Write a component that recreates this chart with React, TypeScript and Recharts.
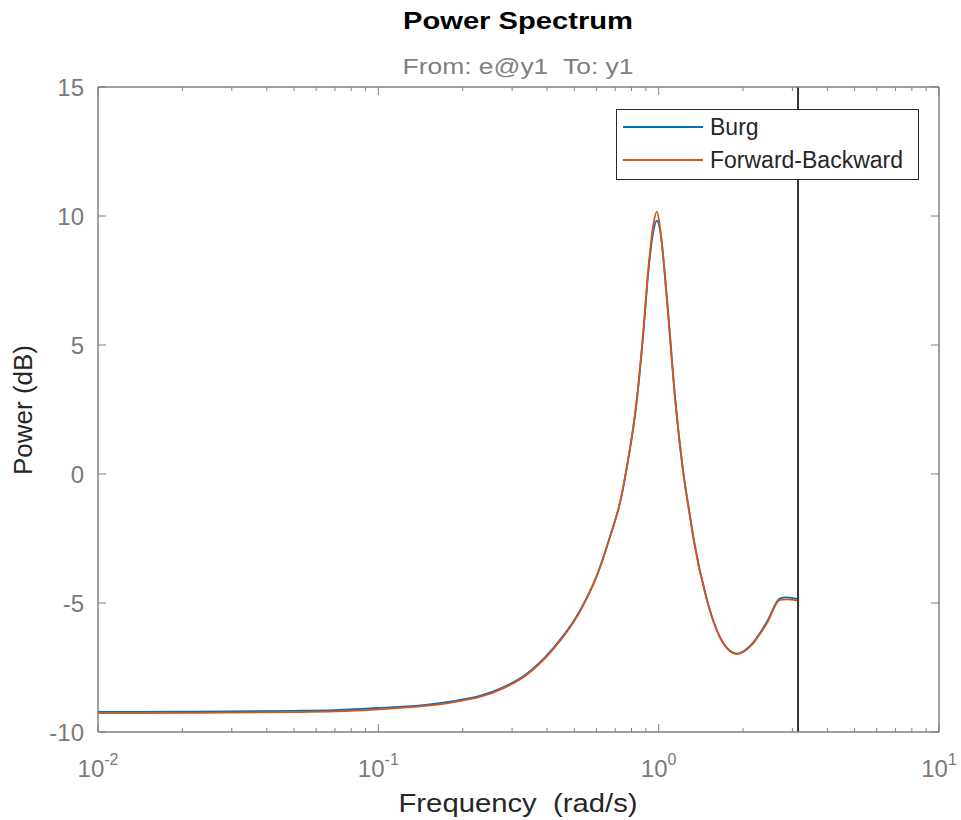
import React from 'react';
import { LineChart, Line, XAxis, YAxis, ReferenceLine, Legend } from 'recharts';

// ---- data ----
const freq = [0.01, 0.02, 0.05, 0.07, 0.1, 0.15, 0.2, 0.23, 0.28, 0.33, 0.42, 0.52, 0.6, 0.67, 0.73, 0.77, 0.835, 0.88, 0.92, 0.955, 0.985, 1.01, 1.07, 1.145, 1.225, 1.295, 1.33, 1.485, 1.7, 1.9, 2.12, 2.43, 2.71, 2.86, 3.1416];
const burg = [-9.22, -9.21, -9.18, -9.15, -9.07, -8.94, -8.74, -8.6, -8.26, -7.83, -6.76, -5.36, -3.97, -2.43, -1.05, 0.25, 2.8, 5.35, 7.9, 9.35, 9.82, 9.5, 6.85, 2.95, 0.05, -1.65, -2.45, -4.85, -6.55, -6.96, -6.66, -5.74, -4.82, -4.78, -4.85];
const fwdBwd = [-9.27, -9.26, -9.23, -9.2, -9.12, -8.98, -8.78, -8.64, -8.3, -7.87, -6.8, -5.39, -3.99, -2.45, -1.05, 0.28, 2.87, 5.45, 8.03, 9.6, 10.17, 9.6, 6.74, 2.87, 0.0, -1.7, -2.5, -4.88, -6.56, -6.98, -6.69, -5.79, -4.88, -4.86, -4.91];

const xMajorTicks = [0.01, 0.1, 1, 10];
const xTickExponents = ['-2', '-1', '0', '1'];
const xMinorMultipliers = [2, 3, 4, 5, 6, 7, 8, 9];
const yTicks = [-10, -5, 0, 5, 10, 15];
const seriesNames = ['Burg', 'Forward-Backward'];
const seriesColors = ['#0072BD', '#D95319'];
const nyquistFreq = 3.1416;

const titleText = 'Power Spectrum';
const subtitleText = 'From: e@y1\u00A0\u00A0To: y1';
const xLabelText = 'Frequency\u00A0\u00A0(rad/s)';
const yLabelText = 'Power (dB)';

// ---- derived ----
const data = freq.map((f, i) => ({ f, burg: burg[i], fb: fwdBwd[i] }));
const xAllTicks: number[] = [];
xMajorTicks.forEach((m, i) => {
  xAllTicks.push(m);
  if (i < xMajorTicks.length - 1) xMinorMultipliers.forEach((k) => xAllTicks.push(+(m * k).toPrecision(6)));
});

const FONT = '"Liberation Sans", Arial, Helvetica, sans-serif';
const AXIS = '#808080';
const TICKTXT = '#7a7a7a';

const majorIndex = (v: number) => xMajorTicks.findIndex((m) => Math.abs(m - v) / m < 1e-6);

const BottomTick = (props: any) => {
  const { x, y, payload } = props;
  const idx = majorIndex(payload.value);
  const major = idx >= 0;
  return (
    <g>
      <line x1={x} y1={y} x2={x} y2={y - (major ? 8 : 4)} stroke={AXIS} strokeWidth={1} />
      {major && (
        <text x={x} y={y + 45} textAnchor="middle" fill={TICKTXT} fontSize={24} fontFamily={FONT}>
          10
          <tspan dy={-12} fontSize={16}>{xTickExponents[idx]}</tspan>
        </text>
      )}
    </g>
  );
};

const TopTick = (props: any) => {
  const { x, y, payload } = props;
  const major = majorIndex(payload.value) >= 0;
  return <line x1={x} y1={y} x2={x} y2={y + (major ? 8 : 4)} stroke={AXIS} strokeWidth={1} />;
};

const LeftTick = (props: any) => {
  const { x, y, payload } = props;
  return (
    <g>
      <line x1={x} y1={y} x2={x + 8} y2={y} stroke={AXIS} strokeWidth={1} />
      <text x={x - 14} y={y + 9} textAnchor="end" fill={TICKTXT} fontSize={24} fontFamily={FONT}>
        {payload.value}
      </text>
    </g>
  );
};

const RightTick = (props: any) => {
  const { x, y } = props;
  return <line x1={x} y1={y} x2={x - 8} y2={y} stroke={AXIS} strokeWidth={1} />;
};

const LegendBox = () => (
  <svg width={303} height={71} style={{ display: 'block' }}>
    <rect x={0.5} y={0.5} width={302} height={70} fill="#fff" stroke="#262626" strokeWidth={1} />
    {seriesNames.map((n, i) => (
      <g key={n}>
        <line x1={7} x2={87} y1={18 + i * 33} y2={18 + i * 33} stroke={seriesColors[i]} strokeWidth={2} />
        <text x={94} y={18 + i * 33 + 8} fontSize={23} fontFamily={FONT} fill="#262626">
          {n}
        </text>
      </g>
    ))}
  </svg>
);

export default function App() {
  return (
    <div style={{ position: 'absolute', left: 0, top: 0, width: 961, height: 820, background: '#fff', fontFamily: FONT }}>
      <LineChart width={961} height={820} data={data} margin={{ top: 86, right: 21, bottom: 87, left: 97 }}>
        <XAxis
          xAxisId="bottom"
          dataKey="f"
          type="number"
          scale="log"
          domain={[0.01, 10]}
          allowDataOverflow
          ticks={xAllTicks}
          interval={0}
          height={1}
          tickSize={0}
          tickMargin={0}
          tickLine={false}
          axisLine={{ stroke: AXIS, strokeWidth: 1.5 }}
          tick={BottomTick}
        />
        <XAxis
          xAxisId="top"
          orientation="top"
          dataKey="f"
          type="number"
          scale="log"
          domain={[0.01, 10]}
          allowDataOverflow
          ticks={xAllTicks}
          interval={0}
          height={1}
          tickSize={0}
          tickMargin={0}
          tickLine={false}
          axisLine={{ stroke: AXIS, strokeWidth: 1.5 }}
          tick={TopTick}
        />
        <YAxis
          yAxisId="left"
          type="number"
          domain={[-10, 15]}
          allowDataOverflow
          ticks={yTicks}
          interval={0}
          width={1}
          tickSize={0}
          tickMargin={0}
          tickLine={false}
          axisLine={{ stroke: AXIS, strokeWidth: 1.5 }}
          tick={LeftTick}
        />
        <YAxis
          yAxisId="right"
          orientation="right"
          type="number"
          domain={[-10, 15]}
          allowDataOverflow
          ticks={yTicks}
          interval={0}
          width={1}
          tickSize={0}
          tickMargin={0}
          tickLine={false}
          axisLine={{ stroke: AXIS, strokeWidth: 1.5 }}
          tick={RightTick}
        />
        <Line
          xAxisId="bottom"
          yAxisId="left"
          dataKey="burg"
          name={seriesNames[0]}
          type="monotone"
          stroke={seriesColors[0]}
          strokeWidth={1.8}
          dot={false}
          isAnimationActive={false}
        />
        <Line
          xAxisId="bottom"
          yAxisId="left"
          dataKey="fb"
          name={seriesNames[1]}
          type="monotone"
          stroke={seriesColors[1]}
          strokeWidth={1.8}
          dot={false}
          isAnimationActive={false}
        />
        <ReferenceLine xAxisId="bottom" yAxisId="left" x={nyquistFreq} stroke="#333" strokeWidth={2} />
        <Legend
          layout="horizontal"
          verticalAlign="middle"
          align="center"
          wrapperStyle={{ left: 616, top: 109, width: 303, height: 71 }}
          content={() => <LegendBox />}
        />
      </LineChart>
      <svg width={961} height={820} style={{ position: 'absolute', left: 0, top: 0, pointerEvents: 'none' }}>
        <text x={518} y={29} textAnchor="middle" fontSize={24} fontWeight="bold" fontFamily={FONT} fill="#000" textLength={230} lengthAdjust="spacingAndGlyphs">
          {titleText}
        </text>
        <text x={518} y={74} textAnchor="middle" fontSize={22} fontFamily={FONT} fill="#808080" textLength={231} lengthAdjust="spacingAndGlyphs">
          {subtitleText}
        </text>
        <text x={518} y={812} textAnchor="middle" fontSize={26} fontFamily={FONT} fill="#262626" textLength={239} lengthAdjust="spacingAndGlyphs">
          {xLabelText}
        </text>
        <text x={0} y={0} transform="translate(32 410) rotate(-90)" textAnchor="middle" fontSize={26} fontFamily={FONT} fill="#262626">
          {yLabelText}
        </text>
      </svg>
    </div>
  );
}
